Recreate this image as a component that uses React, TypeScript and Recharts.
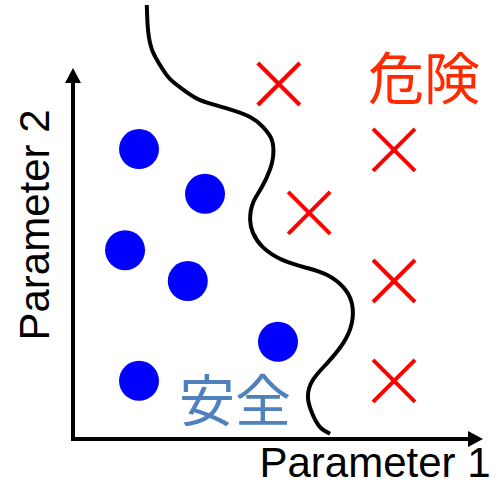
import { ScatterChart, Scatter, XAxis, YAxis, ReferenceLine } from "recharts";

const W = 499;
const H = 486;

// safe samples (blue dots)
const safeX = [16.1, 32.2, 12.7, 28.0, 50.0, 16.1];
const safeY = [66.8, 56.5, 43.5, 36.4, 22.4, 13.4];

// dangerous samples (red crosses)
const dangerX = [50.2, 78.3, 57.6, 78.3, 78.3];
const dangerY = [81.8, 66.6, 52.1, 36.4, 13.4];

// decision boundary, traced top to bottom
const boundaryX = [
  18.0, 18.3, 19.3, 21.2, 23.7, 27.3, 31.0, 37.1, 43.2, 46.3, 48.5, 48.8, 48.0, 46.1, 43.9, 43.2,
  43.9, 46.3, 51.2, 57.1, 62.0, 65.9, 68.0, 68.0, 65.9, 62.0, 58.5, 57.3, 58.3, 60.2, 62.7,
];
const boundaryY = [
  100, 94.2, 89.6, 86.2, 82.9, 80.2, 78.1, 76.3, 74.2, 71.9, 68.9, 65.0, 62.0, 58.1, 54.4, 50.5,
  47.5, 44.2, 41.2, 39.4, 37.8, 35.0, 31.3, 26.7, 22.1, 17.5, 13.6, 9.7, 6.0, 2.8, 1.2,
];

const zip = (xs: number[], ys: number[]) => xs.map((x, i) => ({ x, y: ys[i] }));

const safe = zip(safeX, safeY);
const danger = zip(dangerX, dangerY);
const boundary = zip(boundaryX, boundaryY);

function Dot({ cx, cy }: any) {
  return <circle cx={cx} cy={cy} r={20} fill="#0000FF" />;
}

function Cross({ cx, cy }: any) {
  const s = 21;
  return (
    <g stroke="#FF0000" strokeWidth={4}>
      <line x1={cx - s} y1={cy - s} x2={cx + s} y2={cy + s} />
      <line x1={cx - s} y1={cy + s} x2={cx + s} y2={cy - s} />
    </g>
  );
}

function Arrow({ x1, y1, x2, y2 }: any) {
  const len = Math.hypot(x2 - x1, y2 - y1) || 1;
  const ux = (x2 - x1) / len;
  const uy = (y2 - y1) / len;
  const head = 15;
  const half = 8;
  const bx = x2 - ux * head;
  const by = y2 - uy * head;
  const px = -uy;
  const py = ux;
  return (
    <g>
      <line x1={x1} y1={y1} x2={bx} y2={by} stroke="#000" strokeWidth={4} strokeLinecap="square" />
      <polygon
        points={`${x2},${y2} ${bx + px * half},${by + py * half} ${bx - px * half},${by - py * half}`}
        fill="#000"
      />
    </g>
  );
}

export default function App() {
  return (
    <div style={{ position: "absolute", left: 0, top: 0, width: W, height: H, background: "#fff" }}>
      <ScatterChart width={W} height={H} margin={{ top: 5, right: 16, bottom: 47, left: 73 }}>
        <XAxis type="number" dataKey="x" domain={[0, 100]} hide />
        <YAxis type="number" dataKey="y" domain={[0, 100]} hide />
        <ReferenceLine segment={[{ x: 0, y: 0 }, { x: 0, y: 85.5 }]} ifOverflow="visible" shape={Arrow} />
        <ReferenceLine segment={[{ x: 0, y: 0 }, { x: 100, y: 0 }]} ifOverflow="visible" shape={Arrow} />
        <Scatter
          data={boundary}
          line={{ stroke: "#000", strokeWidth: 4 }}
          lineType="joint"
          lineJointType="natural"
          shape={() => <g />}
          isAnimationActive={false}
        />
        <Scatter data={safe} shape={Dot} isAnimationActive={false} />
        <Scatter data={danger} shape={Cross} isAnimationActive={false} />
      </ScatterChart>
      <svg
        width={W}
        height={H}
        style={{ position: "absolute", left: 0, top: 0, pointerEvents: "none" }}
      >
        <text x={424} y={99} textAnchor="middle" fontSize={56} fill="#FF2A00" fontFamily="Noto Sans CJK JP">
          危険
        </text>
        <text x={235} y={421} textAnchor="middle" fontSize={56} fill="#4F81BD" fontFamily="Noto Sans CJK JP">
          安全
        </text>
        <text x={375} y={477} textAnchor="middle" fontSize={42} fill="#000" fontFamily="Liberation Sans">
          Parameter 1
        </text>
        <text
          x={49}
          y={225}
          transform="rotate(-90 49 225)"
          textAnchor="middle"
          fontSize={42}
          fill="#000"
          fontFamily="Liberation Sans"
        >
          Parameter 2
        </text>
      </svg>
    </div>
  );
}
